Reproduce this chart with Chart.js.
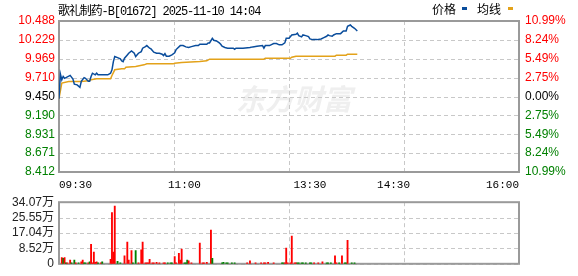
<!DOCTYPE html>
<html>
<head>
<meta charset="utf-8">
<script src="https://cdn.jsdelivr.net/npm/chart.js@4.4.0/dist/chart.umd.min.js"></script>
<style>
html, body { margin: 0; padding: 0; background: #fff; }
#wrap { position: relative; width: 578px; height: 276px; overflow: hidden; }
#priceChart { position: absolute; left: 0; top: 0; }
#volChart { position: absolute; left: 0; top: 190px; }
#title { position: absolute; left: 58px; top: 1px; font: 12px "Liberation Mono", "Noto Sans CJK SC", monospace; letter-spacing: -1.1px; color: #000; white-space: nowrap; }
#legend { position: absolute; left: 432px; top: 0px; font: 12px "Noto Sans CJK SC", sans-serif; color: #000; white-space: nowrap; }
#legend span { position: absolute; top: 0; }
#legend i { position: absolute; top: 7px; width: 5px; height: 3px; }
</style>
</head>
<body>
<div id="wrap">
  <canvas id="priceChart" width="578" height="190"></canvas>
  <canvas id="volChart" width="578" height="86"></canvas>
  <div id="title">歌礼制药-B[01672] 2025-11-10 14:04</div>
  <div id="legend">
    <span style="left:0">价格</span><i style="left:30px;background:#0a4d9c"></i>
    <span style="left:45px">均线</span><i style="left:76px;background:#e3a21a"></i>
  </div>
</div>
<script>
// ========================================
// DATA (minutes counted from 09:30, trading time only)
// ========================================
const timeLabels = ['09:30', '11:00', '13:30', '14:30', '16:00'];
const timeLabelMinutes = [0, 90, 180, 240, 330];
const gridMinutes = [82.5, 165, 247.5];

const priceTickLabels = ['10.488', '10.229', '9.969', '9.710', '9.450', '9.190', '8.931', '8.671', '8.412'];
const pctTickLabels = ['10.99%', '8.24%', '5.49%', '2.75%', '0.00%', '2.75%', '5.49%', '8.24%', '10.99%'];
const volTickLabels = ['34.07万', '25.55万', '17.04万', '8.52万', '0'];
const volTickValues = [34.07, 25.55, 17.04, 8.52, 0];

const priceMinutes = [
    0, 1, 2, 3, 4, 8, 10, 11, 13, 15,
    16, 18, 19, 21, 22, 23, 24, 26, 27, 28,
    35, 37, 38, 39, 40, 42, 44, 45, 46, 47,
    49, 50, 52, 54, 55, 57, 59, 60, 62, 63,
    65, 66, 68, 70, 72, 74, 75, 76, 77, 79,
    81, 83, 84, 85, 87, 89, 91, 93, 95, 98,
    100, 101, 106, 107, 108, 110, 111, 113, 115, 116,
    117, 119, 121, 125, 126, 127, 132, 137, 139, 142,
    146, 147, 148, 151, 154, 156, 158, 160, 162, 163,
    165, 167, 170, 171, 172, 174, 175, 177, 179, 180,
    182, 185, 188, 190, 192, 193, 194, 196, 197, 199,
    202, 204, 206, 207, 209, 210, 212, 214
];
const priceValues = [
    9.42, 9.758, 9.68, 9.725, 9.70, 9.74, 9.69, 9.62, 9.61, 9.575,
    9.66, 9.71, 9.70, 9.66, 9.66, 9.725, 9.77, 9.748, 9.77, 9.748,
    9.748, 9.77, 9.817, 9.93, 9.999, 9.985, 9.967, 9.94, 9.93, 9.976,
    10.022, 10.045, 10.077, 10.045, 9.999, 10.045, 10.067, 10.114, 10.136, 10.15,
    10.114, 10.104, 10.06, 10.045, 10.045, 10.032, 10.013, 10.04, 10.004, 10.004,
    10.022, 10.05, 10.095, 10.114, 10.15, 10.15, 10.132, 10.123, 10.136, 10.15,
    10.15, 10.169, 10.169, 10.187, 10.187, 10.25, 10.223, 10.214, 10.187, 10.169,
    10.141, 10.123, 10.114, 10.114, 10.10, 10.114, 10.114, 10.123, 10.132, 10.141,
    10.15, 10.114, 10.15, 10.15, 10.177, 10.177, 10.16, 10.16, 10.187, 10.25,
    10.25, 10.296, 10.305, 10.32, 10.287, 10.27, 10.296, 10.287, 10.273, 10.241,
    10.232, 10.232, 10.241, 10.259, 10.278, 10.296, 10.287, 10.278, 10.296, 10.314,
    10.314, 10.351, 10.351, 10.415, 10.433, 10.415, 10.388, 10.351
];

const avgMinutes = [
    0, 2, 7, 16, 21, 23, 27, 37, 38, 40,
    45, 47, 48, 55, 61, 63, 82, 83, 88, 101,
    106, 108, 147, 148, 166, 167, 170, 198, 199, 206,
    207, 214
];
const avgValues = [
    9.42, 9.634, 9.657, 9.657, 9.666, 9.68, 9.693, 9.693, 9.739, 9.817,
    9.83, 9.83, 9.853, 9.862, 9.885, 9.899, 9.899, 9.908, 9.917, 9.93,
    9.94, 9.963, 9.963, 9.976, 9.976, 9.99, 10.004, 10.004, 10.018, 10.018,
    10.032, 10.032
];

// volume in 万 shares, 'u' = up minute (red), 'd' = down minute (green)
const volMinutes = [
    2, 3, 4, 5, 6, 8, 9, 11, 12, 14,
    16, 17, 18, 19, 21, 22, 23, 24, 25, 26,
    27, 28, 30, 31, 37, 38, 39, 40, 42, 44,
    47, 49, 50, 52, 53, 55, 57, 59, 60, 62,
    63, 64, 65, 67, 68, 70, 72, 75, 76, 78,
    80, 81, 83, 84, 86, 87, 88, 90, 91, 92,
    93, 95, 101, 103, 104, 106, 109, 110, 117, 118,
    120, 121, 124, 126, 135, 137, 141, 145, 147, 148,
    150, 154, 160, 161, 162, 163, 164, 166, 167, 169,
    170, 171, 172, 174, 175, 177, 180, 181, 183, 186,
    189, 192, 193, 195, 198, 199, 201, 203, 205, 206,
    207, 210, 212
];
const volValues = [
    3.5, 3.0, 3.5, 0.6, 0.5, 2.0, 0.6, 2.0, 0.5, 0.6,
    1.1, 2.0, 0.6, 0.6, 0.5, 1.1, 10.7, 0.6, 6.5, 0.8,
    1.1, 0.6, 0.6, 1.1, 2.5, 28.3, 6.5, 31.9, 1.3, 0.6,
    4.4, 12.0, 2.0, 7.3, 0.6, 7.3, 0.5, 7.7, 12.0, 0.6,
    0.6, 0.6, 2.5, 0.6, 0.6, 0.8, 0.6, 0.6, 0.6, 0.6,
    0.6, 0.6, 4.0, 0.6, 5.8, 2.0, 8.2, 0.6, 0.6, 2.0,
    1.6, 0.6, 11.5, 0.6, 0.6, 0.8, 18.6, 3.0, 0.6, 0.8,
    0.6, 0.6, 0.6, 0.6, 0.6, 1.6, 0.6, 0.6, 0.6, 0.6,
    0.8, 0.6, 0.6, 0.6, 0.6, 8.7, 0.6, 0.6, 15.3, 0.6,
    0.6, 0.6, 0.6, 0.6, 0.6, 0.6, 0.6, 0.6, 0.6, 0.6,
    1.1, 0.6, 0.6, 0.6, 4.4, 0.6, 0.6, 4.4, 0.6, 0.6,
    13.0, 0.6, 0.6
];
const volDirs = [
    'u', 'd', 'u', 'd', 'u', 'u', 'd', 'd', 'u', 'd',
    'u', 'u', 'd', 'd', 'u', 'd', 'u', 'u', 'u', 'u',
    'u', 'd', 'u', 'd', 'u', 'u', 'u', 'u', 'd', 'd',
    'u', 'u', 'u', 'u', 'd', 'd', 'u', 'u', 'u', 'u',
    'u', 'u', 'u', 'u', 'u', 'u', 'u', 'u', 'u', 'd',
    'd', 'd', 'u', 'u', 'u', 'u', 'u', 'd', 'd', 'd',
    'u', 'u', 'u', 'u', 'u', 'u', 'u', 'd', 'd', 'd',
    'd', 'd', 'd', 'd', 'u', 'u', 'u', 'u', 'u', 'u',
    'u', 'u', 'd', 'd', 'u', 'u', 'u', 'u', 'u', 'u',
    'u', 'd', 'd', 'd', 'd', 'd', 'd', 'd', 'u', 'u',
    'u', 'd', 'd', 'd', 'u', 'u', 'd', 'u', 'd', 'd',
    'u', 'd', 'd'
];

// ========================================
// STYLE
// ========================================
const COLORS = {
    up: '#ff0000',
    down: '#008000',
    flat: '#000000',
    price: '#0a4d9c',
    avg: '#e3a21a',
    grid: '#c8c8c8',
    frame: '#9a9a9a',
    text: '#000000'
};
const AXIS_FONT = { family: '"Liberation Sans", "Noto Sans CJK SC", Arial, sans-serif', size: 12 };
const TIME_FONT = { family: '"Liberation Mono", monospace', size: 11 };

function levelColor(index, mid) {
    if (index < mid) return COLORS.up;
    if (index === mid) return COLORS.flat;
    return COLORS.down;
}

// dashed grid lines at the ticks of the listed scales, then a grey box round the plot
const dashedGridPlugin = {
    id: 'dashedGrid',
    beforeDatasetsDraw(chart, args, opts) {
        const a = chart.chartArea;
        const ctx = chart.ctx;
        ctx.save();
        ctx.strokeStyle = COLORS.grid;
        ctx.lineWidth = 1;
        ctx.setLineDash([4, 3]);
        (opts.scales || []).forEach(id => {
            const scale = chart.scales[id];
            scale.ticks.forEach(t => {
                const p = Math.round(scale.getPixelForValue(t.value)) + 0.5;
                ctx.beginPath();
                if (scale.isHorizontal()) {
                    ctx.moveTo(p, a.top);
                    ctx.lineTo(p, a.bottom);
                } else {
                    ctx.moveTo(a.left, p);
                    ctx.lineTo(a.right, p);
                }
                ctx.stroke();
            });
        });
        ctx.setLineDash([]);
        ctx.strokeStyle = COLORS.frame;
        ctx.lineWidth = 2;
        ctx.strokeRect(a.left, a.top, a.right - a.left, a.bottom - a.top);
        ctx.restore();
    }
};

// faint site watermark behind the price line
const watermarkPlugin = {
    id: 'watermark',
    beforeDatasetsDraw(chart) {
        const ctx = chart.ctx;
        ctx.save();
        ctx.fillStyle = '#efefef';
        ctx.font = 'italic bold 29px "Noto Sans CJK SC", sans-serif';
        ctx.textBaseline = 'middle';
        ctx.fillText('东方财富', 236, 99);
        ctx.restore();
    }
};

function fixedWidth(w) {
    return function(scale) { scale.width = w; };
}
function fixedHeight(h) {
    return function(scale) { scale.height = h; };
}

// ========================================
// PRICE CHART
// ========================================
const priceMin = parseFloat(priceTickLabels[priceTickLabels.length - 1]);
const priceMax = parseFloat(priceTickLabels[0]);

new Chart(document.getElementById('priceChart'), {
    type: 'line',
    data: {
        datasets: [
            {
                label: '价格',
                data: priceMinutes.map((m, i) => ({ x: m, y: priceValues[i] })),
                borderColor: COLORS.price,
                borderWidth: 1.5,
                pointRadius: 0,
                tension: 0,
                order: 0
            },
            {
                label: '均线',
                data: avgMinutes.map((m, i) => ({ x: m, y: avgValues[i] })),
                borderColor: COLORS.avg,
                borderWidth: 1.5,
                pointRadius: 0,
                tension: 0,
                order: 1
            }
        ]
    },
    options: {
        responsive: false,
        animation: false,
        layout: { padding: { top: 21, left: 0, right: 0, bottom: 0 } },
        plugins: {
            legend: { display: false },
            tooltip: { enabled: false },
            dashedGrid: { scales: ['xg', 'y'] }
        },
        scales: {
            x: {
                type: 'linear',
                position: 'bottom',
                min: 0,
                max: 330,
                afterBuildTicks: s => { s.ticks = timeLabelMinutes.map(v => ({ value: v })); },
                afterFit: fixedHeight(18),
                grid: { display: false, drawTicks: false },
                border: { display: false },
                ticks: {
                    autoSkip: false,
                    maxRotation: 0,
                    align: 'inner',
                    padding: 6,
                    color: COLORS.text,
                    font: TIME_FONT,
                    callback: (v, i) => timeLabels[i]
                }
            },
            xg: {
                type: 'linear',
                position: 'top',
                min: 0,
                max: 330,
                afterBuildTicks: s => { s.ticks = gridMinutes.map(v => ({ value: v })); },
                afterFit: fixedHeight(0),
                grid: { display: false, drawTicks: false },
                border: { display: false },
                ticks: { display: false }
            },
            y: {
                position: 'left',
                min: priceMin,
                max: priceMax,
                afterBuildTicks: s => { s.ticks = priceTickLabels.map(t => ({ value: parseFloat(t) })); },
                afterFit: fixedWidth(59),
                grid: { display: false, drawTicks: false },
                border: { display: false },
                ticks: {
                    autoSkip: false,
                    padding: 4,
                    font: AXIS_FONT,
                    color: c => levelColor(c.index, 4),
                    callback: (v, i) => priceTickLabels[i]
                }
            },
            y1: {
                position: 'right',
                min: priceMin,
                max: priceMax,
                afterBuildTicks: s => { s.ticks = priceTickLabels.map(t => ({ value: parseFloat(t) })); },
                afterFit: fixedWidth(59),
                grid: { display: false, drawTicks: false },
                border: { display: false },
                ticks: {
                    autoSkip: false,
                    padding: 6,
                    font: AXIS_FONT,
                    color: c => levelColor(c.index, 4),
                    callback: (v, i) => pctTickLabels[i]
                }
            }
        }
    },
    plugins: [watermarkPlugin, dashedGridPlugin]
});

// ========================================
// VOLUME CHART
// ========================================
new Chart(document.getElementById('volChart'), {
    type: 'bar',
    data: {
        datasets: [
            {
                label: '成交量',
                data: volMinutes.map((m, i) => ({ x: m, y: volValues[i] })),
                backgroundColor: volDirs.map(d => d === 'u' ? COLORS.up : COLORS.down),
                borderWidth: 0,
                barThickness: 1.2
            }
        ]
    },
    options: {
        responsive: false,
        animation: false,
        layout: { padding: { top: 6, left: 0, right: 59, bottom: 7 } },
        plugins: {
            legend: { display: false },
            tooltip: { enabled: false },
            dashedGrid: { scales: ['x', 'y'] }
        },
        scales: {
            x: {
                type: 'linear',
                min: 0,
                max: 330,
                offset: false,
                afterBuildTicks: s => { s.ticks = gridMinutes.map(v => ({ value: v })); },
                afterFit: fixedHeight(0),
                grid: { display: false, drawTicks: false, offset: false },
                border: { display: false },
                ticks: { display: false }
            },
            y: {
                min: 0,
                max: volTickValues[0],
                afterBuildTicks: s => { s.ticks = volTickValues.map(v => ({ value: v })); },
                afterFit: fixedWidth(59),
                grid: { display: false, drawTicks: false },
                border: { display: false },
                ticks: {
                    autoSkip: false,
                    padding: 5,
                    font: AXIS_FONT,
                    color: '#222',
                    callback: (v, i) => volTickLabels[i]
                }
            }
        }
    },
    plugins: [dashedGridPlugin]
});
</script>
</body>
</html>
